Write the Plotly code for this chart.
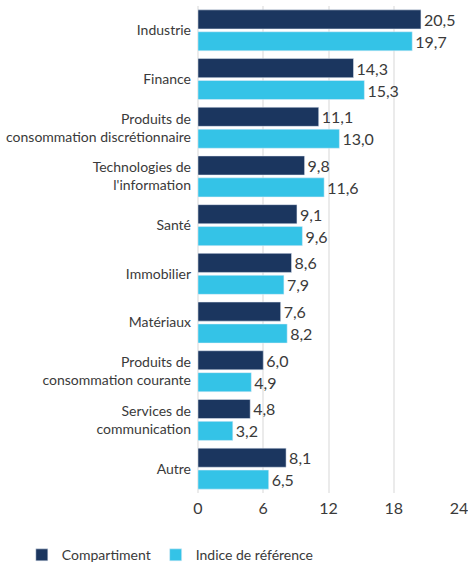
import plotly.graph_objects as go

categories = ["Industrie", "Finance", "Produits de<br>consommation discrétionnaire",
              "Technologies de<br>l'information", "Santé", "Immobilier", "Matériaux",
              "Produits de<br>consommation courante", "Services de<br>communication", "Autre"]
compartiment = [20.5, 14.3, 11.1, 9.8, 9.1, 8.6, 7.6, 6.0, 4.8, 8.1]
indice = [19.7, 15.3, 13.0, 11.6, 9.6, 7.9, 8.2, 4.9, 3.2, 6.5]
x_ticks = [0, 6, 12, 18, 24]

FONT = "Lato, Roboto, sans-serif"
DARK = "#1b365f"
LIGHT = "#34c3e7"
TXT = "#3a3a3a"

fig = go.Figure()
fig.add_trace(go.Bar(y=categories, x=compartiment, orientation="h", name="Compartiment",
                     marker_color=DARK, texttemplate="%{x:.1f}", textposition="outside",
                     textfont=dict(color=TXT, size=16, family=FONT), cliponaxis=False))
fig.add_trace(go.Bar(y=categories, x=indice, orientation="h", name="Indice de référence",
                     marker_color=LIGHT, texttemplate="%{x:.1f}", textposition="outside",
                     textfont=dict(color=TXT, size=16, family=FONT), cliponaxis=False))

fig.update_layout(
    width=468, height=565,
    margin=dict(l=198, r=9, t=6, b=72, autoexpand=False),
    paper_bgcolor="white", plot_bgcolor="white",
    barmode="group", bargap=0.1, bargroupgap=0.13,
    separators=", ",
    font=dict(family=FONT, size=15, color=TXT),
    xaxis=dict(range=[0, 24], tickvals=x_ticks, showgrid=True, gridcolor="#ebebeb", gridwidth=2,
               zeroline=True, zerolinecolor="#ebebeb", zerolinewidth=2, showline=False,
               tickfont=dict(size=16), ticklabelstandoff=4, automargin=False,
               ticklabeloverflow="allow"),
    yaxis=dict(autorange="reversed", showgrid=False, zeroline=False, showline=False,
               tickfont=dict(size=14), ticklabelstandoff=6, automargin=False),
    legend=dict(orientation="h", x=-0.675, xref="paper", y=-0.095, yref="paper",
                yanchor="top", xanchor="left", font=dict(size=14), traceorder="normal",
                bgcolor="rgba(0,0,0,0)", itemwidth=30),
)

fig.write_html("out.html", config={"displayModeBar": False},
               post_script="document.body.style.margin='0px';")
